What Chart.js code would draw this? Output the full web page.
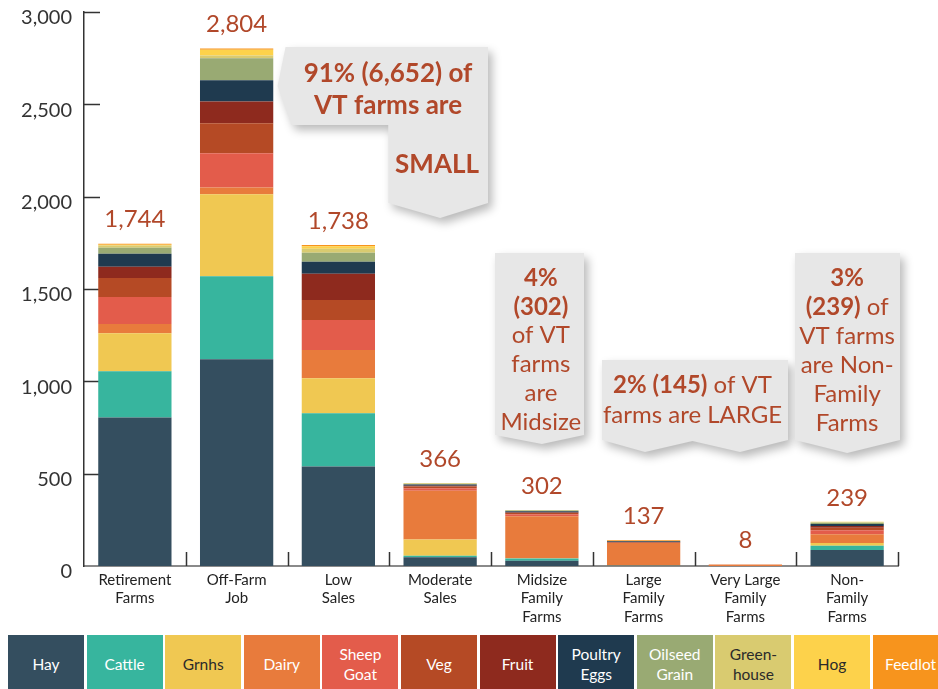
<!DOCTYPE html>
<html>
<head>
<meta charset="utf-8">
<script src="https://cdn.jsdelivr.net/npm/chart.js@4.4.1/dist/chart.umd.min.js"></script>
<style>
    body { margin: 0; background: #fff; overflow: hidden; }
    #wrap { position: relative; width: 938px; height: 689px; overflow: hidden; }
    #legend { position: absolute; top: 635px; left: 0; width: 938px; height: 54px; overflow: hidden; }
    .key {
        position: absolute; top: 0; width: 76px; height: 58px;
        display: flex; align-items: center; justify-content: center; text-align: center;
        font: 15.5px Lato, sans-serif; line-height: 20px; color: #fff;
    }
</style>
</head>
<body>
<div id="wrap">
    <canvas id="farmChart" width="938" height="630"></canvas>
    <div id="legend"></div>
</div>
<script>
// --- data ---
const categories = [
    ['Retirement', 'Farms'], ['Off-Farm', 'Job'], ['Low', 'Sales'], ['Moderate', 'Sales'],
    ['Midsize', 'Family', 'Farms'], ['Large', 'Family', 'Farms'], ['Very Large', 'Family', 'Farms'], ['Non-', 'Family', 'Farms']
];
const totals = [1744, 2804, 1738, 366, 302, 137, 8, 239];
const yTickValues = [0, 500, 1000, 1500, 2000, 2500, 3000];

const seriesNames = ['Hay', 'Cattle', 'Grnhs', 'Dairy', 'Sheep Goat', 'Veg', 'Fruit', 'Poultry Eggs', 'Oilseed Grain', 'Greenhouse', 'Hog', 'Feedlot'];
const legendLabels = [['Hay'], ['Cattle'], ['Grnhs'], ['Dairy'], ['Sheep', 'Goat'], ['Veg'], ['Fruit'], ['Poultry', 'Eggs'], ['Oilseed', 'Grain'], ['Green-', 'house'], ['Hog'], ['Feedlot']];
const seriesColors = ['#344e5f', '#37b59e', '#f0c852', '#e87b3c', '#e35c4b', '#b54a25', '#8e2a1e', '#1f3a4f', '#99aa73', '#d9cb70', '#fdd24b', '#f7941d'];
const darkTextKeys = ['Grnhs', 'Greenhouse', 'Hog'];

const hay        = [804, 1119, 539, 47, 29, 2, 0, 87];
const cattle     = [250, 450, 288, 9, 11, 1, 0, 22];
const grnhs      = [207, 444, 190, 87, 2, 0, 0, 16];
const dairy      = [49, 37, 152, 264, 227, 121, 8, 47];
const sheepGoat  = [147, 185, 163, 14, 11, 0, 0, 22];
const veg        = [103, 162, 109, 9, 7, 3, 0, 13];
const fruit      = [60, 119, 141, 5, 3, 3, 0, 9];
const poultry    = [71, 114, 65, 7, 7, 4, 0, 11];
const oilseed    = [33, 119, 49, 3, 3, 0, 0, 7];
const greenhouse = [11, 15, 22, 2, 3, 0, 0, 3];
const hog        = [5, 32, 14, 2, 0, 0, 0, 2];
const feedlot    = [5, 7, 6, 0, 0, 5, 0, 0];
const seriesValues = [hay, cattle, grnhs, dairy, sheepGoat, veg, fruit, poultry, oilseed, greenhouse, hog, feedlot];

const RUST = '#b1482a';
const FONT = 'Lato, "Noto Sans", sans-serif';

// short tick marks drawn inside the plot area
const innerTicks = {
    id: 'innerTicks',
    beforeDatasetsDraw(chart) {
        const { ctx, chartArea: ca, scales: { x, y } } = chart;
        ctx.save();
        ctx.strokeStyle = '#333';
        ctx.lineWidth = 1.5;
        ctx.beginPath();
        yTickValues.forEach(v => {
            if (v === 0) return;
            const py = Math.round(y.getPixelForValue(v)) + 0.5;
            ctx.moveTo(ca.left, py);
            ctx.lineTo(ca.left + 16, py);
        });
        const catW = (x.right - x.left) / categories.length;
        for (let i = 1; i <= categories.length; i++) {
            const px = Math.round(x.left + i * catW) + 0.5;
            ctx.moveTo(px, ca.bottom);
            ctx.lineTo(px, ca.bottom - 14);
        }
        ctx.stroke();
        ctx.restore();
    }
};

// total above each bar
const totalLabels = {
    id: 'totalLabels',
    afterDatasetsDraw(chart) {
        const { ctx, scales: { x, y } } = chart;
        ctx.save();
        ctx.fillStyle = RUST;
        ctx.font = '24px ' + FONT;
        ctx.textAlign = 'center';
        ctx.textBaseline = 'middle';
        totals.forEach((t, i) => {
            const sum = seriesValues.reduce((a, s) => a + s[i], 0);
            ctx.fillText(t.toLocaleString('en-US'), x.getPixelForValue(i), y.getPixelForValue(sum) - 24);
        });
        ctx.restore();
    }
};

// grey call-out boxes
function drawLine(ctx, parts, cx, cy, size) {
    let w = 0;
    parts.forEach(p => {
        ctx.font = (p[1] ? 'bold ' : '') + size + 'px ' + FONT;
        w += ctx.measureText(p[0]).width;
    });
    let xx = cx - w / 2;
    parts.forEach(p => {
        ctx.font = (p[1] ? 'bold ' : '') + size + 'px ' + FONT;
        ctx.fillText(p[0], xx, cy);
        xx += ctx.measureText(p[0]).width;
    });
}

const callouts = {
    id: 'callouts',
    afterDatasetsDraw(chart) {
        const { ctx, scales: { x } } = chart;
        const catW = (x.right - x.left) / categories.length;
        const b = i => x.left + i * catW;
        const shapes = [
            [[b(2) - 2, 47], [b(4) - 3, 47], [b(4) - 3, 203], [b(3.5), 218], [b(3) - 1, 203], [b(3) - 1, 125], [b(2) + 4, 125], [b(2) - 10, 86]],
            [[495, 253], [584, 253], [584, 435], [b(4.5), 444], [495, 435]],
            [[602, 360], [788, 360], [788, 440], [740, 452], [b(6) - 2, 441], [645, 452], [602, 440]],
            [[795, 253], [900, 253], [900, 440], [b(7.5), 453], [795, 440]]
        ];
        ctx.save();
        ctx.fillStyle = '#e7e7e7';
        ctx.shadowColor = 'rgba(0,0,0,0.28)';
        ctx.shadowBlur = 10;
        ctx.shadowOffsetX = 4;
        ctx.shadowOffsetY = 5;
        shapes.forEach(pts => {
            ctx.beginPath();
            pts.forEach((p, k) => k ? ctx.lineTo(p[0], p[1]) : ctx.moveTo(p[0], p[1]));
            ctx.closePath();
            ctx.fill();
        });
        ctx.restore();

        ctx.save();
        ctx.fillStyle = RUST;
        ctx.textAlign = 'left';
        ctx.textBaseline = 'middle';
        drawLine(ctx, [['91% (6,652) of', true]], 388, 74, 26);
        drawLine(ctx, [['VT farms are', true]], 388, 106, 26);
        drawLine(ctx, [['SMALL', true]], 437, 165, 26);

        const c2 = b(4.5) - 1;
        [[['4%', true]], [['(302)', true]], [['of VT', false]], [['farms', false]], [['are', false]], [['Midsize', false]]]
            .forEach((l, k) => drawLine(ctx, l, c2, 278 + k * 28.8, 24));

        const c3 = b(6) - 2;
        drawLine(ctx, [['2% (145)', true], [' of VT', false]], c3, 385, 24);
        drawLine(ctx, [['farms are LARGE', false]], c3, 415, 24);

        const c4 = b(7.5);
        [[['3%', true]], [['(239)', true], [' of', false]], [['VT farms', false]], [['are Non-', false]], [['Family', false]], [['Farms', false]]]
            .forEach((l, k) => drawLine(ctx, l, c4, 278 + k * 29, 24));
        ctx.restore();
    }
};

new Chart(document.getElementById('farmChart').getContext('2d'), {
    type: 'bar',
    data: {
        labels: categories,
        datasets: seriesNames.map((name, i) => ({
            label: name,
            data: seriesValues[i],
            backgroundColor: seriesColors[i],
            borderWidth: 0,
            categoryPercentage: 1,
            barPercentage: 0.72
        }))
    },
    options: {
        responsive: false,
        animation: false,
        layout: { padding: { top: 12, right: 40, left: 0, bottom: 0 } },
        plugins: {
            legend: { display: false },
            tooltip: { enabled: false }
        },
        scales: {
            x: {
                stacked: true,
                grid: { display: false, drawTicks: false },
                border: { display: true, color: '#8a8a8a', width: 2 },
                ticks: { color: '#222', font: { family: FONT, size: 15, lineHeight: 1.22 }, padding: 5, maxRotation: 0, autoSkip: false },
                afterFit: s => { s.height = 64; s.paddingLeft = 0; s.paddingRight = 0; }
            },
            y: {
                stacked: true,
                min: 0,
                max: 3000,
                afterBuildTicks: s => { s.ticks = yTickValues.map(v => ({ value: v })); },
                grid: { display: false, drawTicks: false },
                border: { display: true, color: '#333', width: 1.5 },
                ticks: {
                    color: '#333',
                    font: { family: FONT, size: 20 },
                    padding: 12,
                    labelOffset: 6,
                    callback: v => v.toLocaleString('en-US')
                },
                afterFit: s => { s.width = 84; s.paddingTop = 0; s.paddingBottom = 0; }
            }
        }
    },
    plugins: [innerTicks, totalLabels, callouts]
});

// --- colour key along the bottom ---
const legendEl = document.getElementById('legend');
seriesNames.forEach((name, i) => {
    const d = document.createElement('div');
    d.className = 'key';
    d.style.left = (8 + i * 78.6) + 'px';
    d.style.background = seriesColors[i];
    d.style.color = darkTextKeys.includes(name) ? '#2a2a2a' : '#fff';
    d.innerHTML = legendLabels[i].join('<br>');
    legendEl.appendChild(d);
});
</script>
</body>
</html>
